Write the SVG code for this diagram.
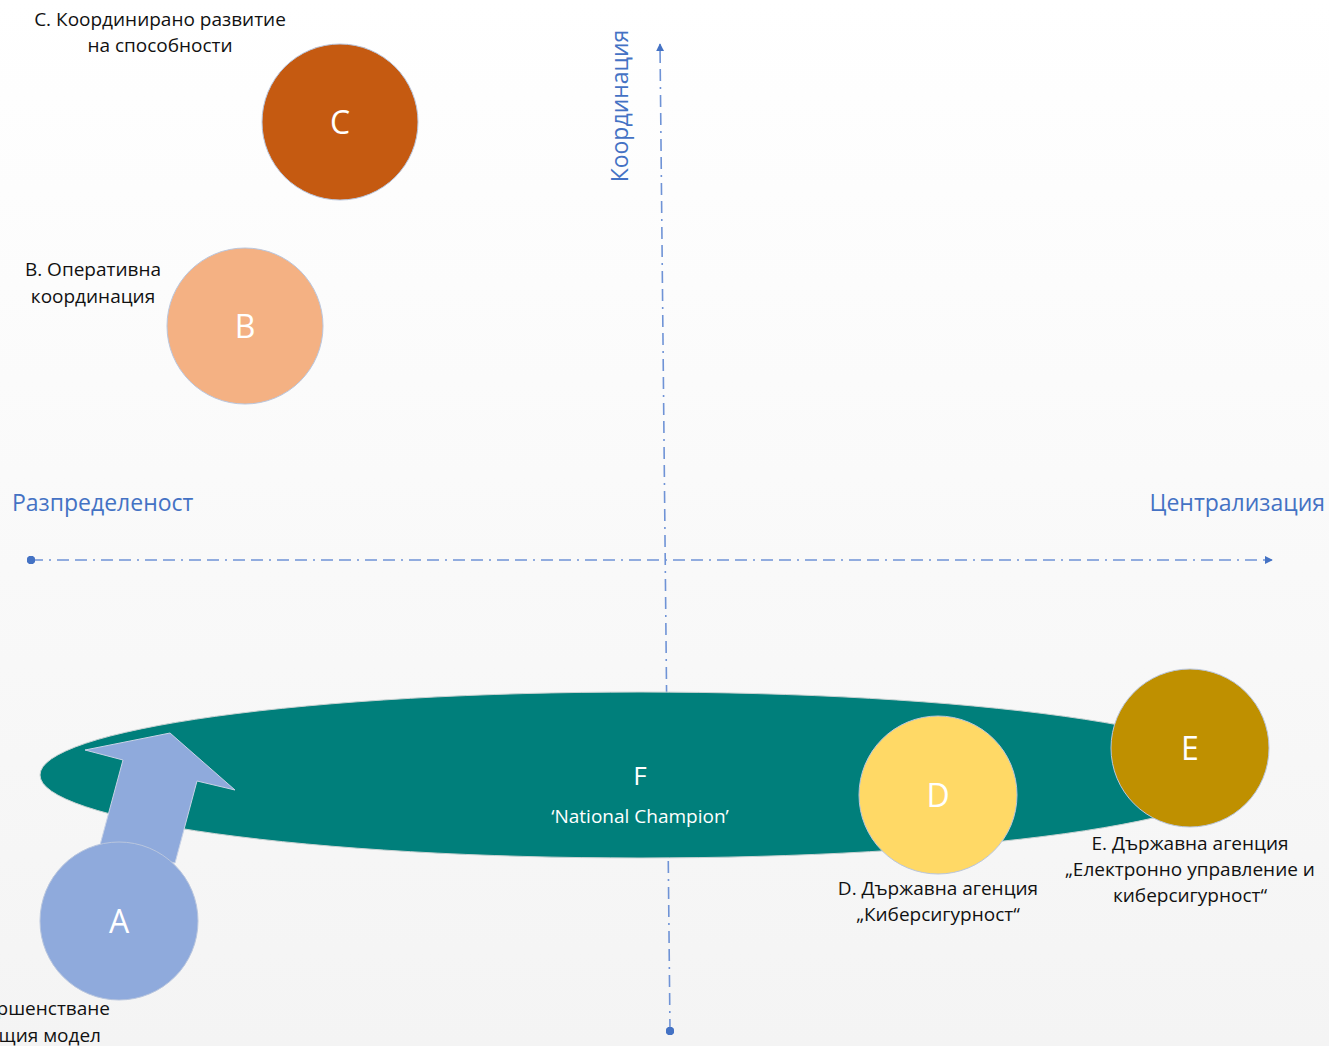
<svg xmlns="http://www.w3.org/2000/svg" width="1329" height="1046" viewBox="0 0 1329 1046">
<defs>
<linearGradient id="bg" x1="0" y1="0" x2="0" y2="1">
<stop offset="0" stop-color="#ffffff"/>
<stop offset="1" stop-color="#f4f4f4"/>
</linearGradient>
<marker id="arr" viewBox="0 0 10 10" refX="9" refY="5" markerWidth="5" markerHeight="5" orient="auto" markerUnits="strokeWidth">
<path d="M0,0 L10,5 L0,10 z" fill="#4472C4"/>
</marker>
<marker id="dot" viewBox="0 0 10 10" refX="5" refY="5" markerWidth="5.5" markerHeight="5.5" markerUnits="strokeWidth">
<circle cx="5" cy="5" r="5" fill="#4472C4"/>
</marker>
</defs>
<style>
.lbl{font-family:"Open Sans","Liberation Sans",sans-serif;font-size:19px;fill:#111;text-anchor:middle}
.let{font-family:"Open Sans","Liberation Sans",sans-serif;font-size:32px;fill:#fff;text-anchor:middle}
.ax{font-family:"Open Sans","Liberation Sans",sans-serif;font-size:23px;fill:#4472C4}
.axis{stroke:#6f93d6;stroke-width:1.6;fill:none;stroke-dasharray:12 6 2 6 12 6}
.circ{stroke:#b9c6de;stroke-width:1}
</style>
<rect width="1329" height="1046" fill="url(#bg)"/>
<g id="connectors">
<line class="axis" x1="31" y1="560" x2="1272" y2="560" marker-start="url(#dot)" marker-end="url(#arr)"/>
<line class="axis" x1="670" y1="1031" x2="660" y2="44" marker-start="url(#dot)" marker-end="url(#arr)"/>
</g>
<g id="axis-labels">
<text class="ax" x="12" y="511">Разпределеност</text>
<text class="ax" x="1325" y="511" text-anchor="end">Централизация</text>
<text class="ax" transform="translate(628,106) rotate(-90)" text-anchor="middle">Координация</text>
</g>
<g id="node-F">
<ellipse cx="640" cy="775" rx="600" ry="83" fill="#007F7B" stroke="#c9d3d3" stroke-width="1"/>
<text class="let" x="640" y="785" style="font-size:26px">F</text>
<text class="lbl" x="640" y="823" style="fill:#fff">‘National Champion’</text>
</g>
<g id="node-A">
<polygon points="100,845 123,760 85,750 170,733 235,790 197,781 175,863" fill="#8FAADC" stroke="#c8d2e6" stroke-width="1"/>
<circle class="circ" cx="119" cy="921" r="79" fill="#8FAADC"/>
<text class="let" x="119" y="933">A</text>
<text class="lbl" x="110" y="1015" style="text-anchor:end">ршенстване</text>
<text class="lbl" x="101" y="1042" style="text-anchor:end">щия модел</text>
</g>
<g id="node-B">
<circle class="circ" cx="245" cy="326" r="78" fill="#F4B183"/>
<text class="let" x="245" y="338">B</text>
<text class="lbl" x="93" y="276">В. Оперативна</text>
<text class="lbl" x="93" y="303">координация</text>
</g>
<g id="node-C">
<circle class="circ" cx="340" cy="122" r="78" fill="#C55A11"/>
<text class="let" x="340" y="134">C</text>
<text class="lbl" x="160" y="26">С. Координирано развитие</text>
<text class="lbl" x="160" y="52">на способности</text>
</g>
<g id="node-D">
<circle class="circ" cx="938" cy="795" r="79" fill="#FFD966"/>
<text class="let" x="938" y="807">D</text>
<text class="lbl" x="938" y="895">D. Държавна агенция</text>
<text class="lbl" x="938" y="921">„Киберсигурност“</text>
</g>
<g id="node-E">
<circle class="circ" cx="1190" cy="748" r="79" fill="#BF9000"/>
<text class="let" x="1190" y="760">E</text>
<text class="lbl" x="1190" y="850">E. Държавна агенция</text>
<text class="lbl" x="1190" y="876">„Електронно управление и</text>
<text class="lbl" x="1190" y="902">киберсигурност“</text>
</g>
</svg>
